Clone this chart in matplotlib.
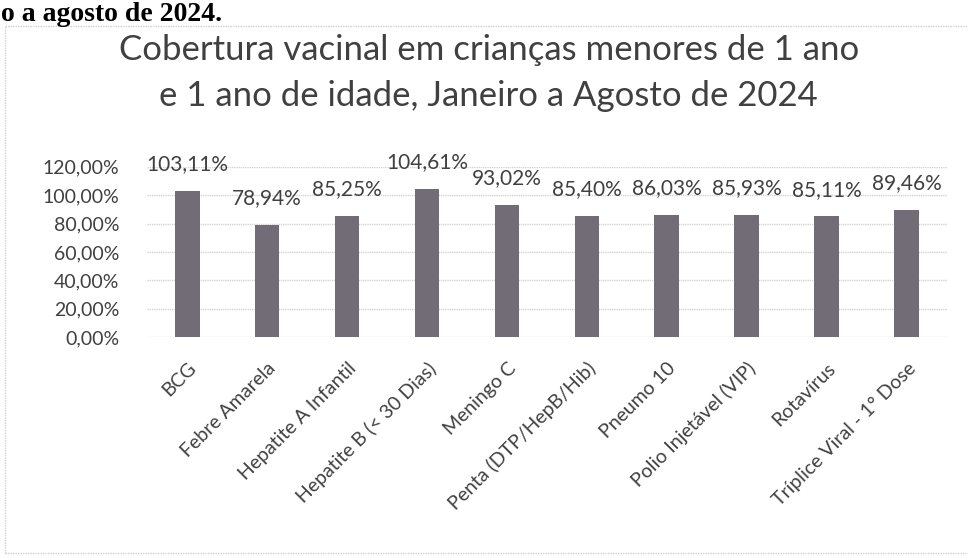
import matplotlib
matplotlib.use("Agg")
import matplotlib.pyplot as plt
from matplotlib.patches import Rectangle
import numpy as np

# dados do grafico
vacinas = ["BCG", "Febre Amarela", "Hepatite A Infantil", "Hepatite B (< 30 Dias)",
           "Meningo C", "Penta (DTP/HepB/Hib)", "Pneumo 10", "Polio Injetável (VIP)",
           "Rotavírus", "Tríplice Viral - 1° Dose"]
cobertura = [103.11, 78.94, 85.25, 104.61, 93.02, 85.40, 86.03, 85.93, 85.11, 89.46]
yticks = [0, 20, 40, 60, 80, 100, 120]

plt.rcParams['font.family'] = ['Lato', 'DejaVu Sans']
txt = '#404040'

fig = plt.figure(figsize=(9.68, 5.58), dpi=100)
ax = fig.add_axes([0.152, 0.396, 0.826, 0.305])

x = np.arange(len(vacinas))
ax.bar(x, cobertura, width=0.31, color='#716c75', zorder=3)

for xi, v in zip(x, cobertura):
    lbl = f"{v:.2f}%".replace('.', ',')
    ax.annotate(lbl, (xi, v), xytext=(0, 12), textcoords='offset points',
                ha='center', va='bottom', fontsize=15, color=txt)

ax.set_xlim(-0.5, len(vacinas) - 0.5)
ax.set_ylim(0, 120)
ax.set_yticks(yticks)
ax.set_yticklabels([f"{t:.2f}%".replace('.', ',') for t in yticks], fontsize=14, color=txt)
ax.set_xticks(x)
ax.set_xticklabels(vacinas, rotation=45, ha='right', rotation_mode='anchor',
                   fontsize=14, color=txt)
ax.tick_params(axis='both', length=0)
ax.tick_params(axis='y', pad=20)
ax.tick_params(axis='x', pad=16)
ax.yaxis.grid(True, color='#d4d4d4', linewidth=1.0, linestyle=(0, (1, 0.6)), zorder=0)
for s in ax.spines.values():
    s.set_visible(False)

fig.text(0.505, 0.869, "Cobertura vacinal em crianças menores de 1 ano\ne 1 ano de idade, Janeiro a Agosto de 2024",
         ha='center', va='center', fontsize=25, color=txt, linespacing=1.55)

# trecho do texto do documento, no topo da digitalizacao
fig.text(0.001, 0.997, "o a agosto de 2024.", ha='left', va='top',
         fontsize=20, fontweight='bold', family='Liberation Serif', color='black')

fig.patches.append(Rectangle((5 / 968, 5 / 558), 1.1, 1 - 31 / 558, transform=fig.transFigure,
                             fill=False, edgecolor='#d0d0d0', linewidth=1.0, linestyle=(0, (1, 0.8))))

fig.savefig("out.png", dpi=100)
